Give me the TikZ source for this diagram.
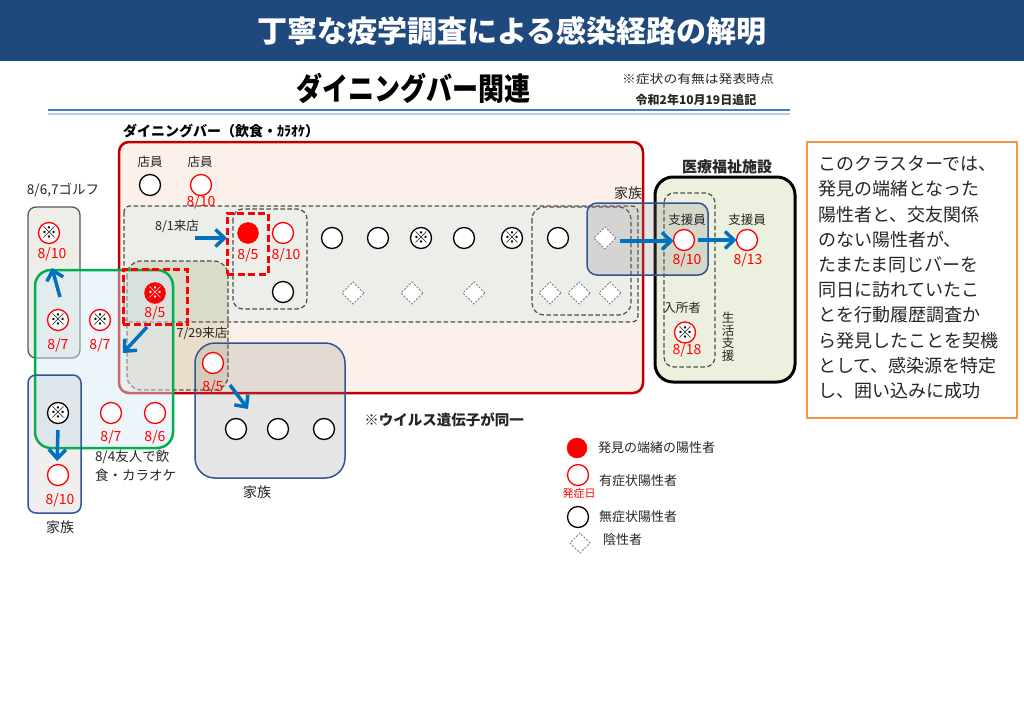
\documentclass[tikz,border=0pt]{standalone}
\usepackage{fontspec}
\usepackage{graphicx}
\setmainfont{Noto Sans CJK JP}
\usetikzlibrary{shapes.geometric,arrows.meta}
\newcommand\myfs[1]{\fontsize{#1}{#1}\selectfont}
\definecolor{titleblue}{HTML}{1F497D}
\definecolor{barred}{HTML}{C00000}
\definecolor{peach}{HTML}{FCF1EA}
\definecolor{dashfill}{HTML}{ECEEEA}
\definecolor{boxblue}{HTML}{2F5597}
\definecolor{arrowblue}{HTML}{0070C0}
\definecolor{grn}{HTML}{00B050}
\definecolor{medfill}{HTML}{EBF1DE}
\definecolor{orng}{HTML}{F79646}
\definecolor{dgray}{HTML}{4D4D4D}
\definecolor{golfgray}{HTML}{595959}
\definecolor{golffill}{HTML}{EEEDE7}
\definecolor{lineblueA}{HTML}{4A7EBB}
\definecolor{lineblueB}{HTML}{B8CCE4}
\definecolor{txtgray}{HTML}{262626}
\definecolor{greenfill}{HTML}{D5E9F5}
\begin{document}
\begin{tikzpicture}[x=1pt,y=-1pt,
  every node/.style={inner sep=0pt, outer sep=0pt},
  posc/.style={circle, draw=red, line width=1.3pt, minimum size=21pt, fill=white, font=\myfs{16}, text=black},
  asyc/.style={circle, draw=black, line width=1.3pt, minimum size=21pt, fill=white, font=\myfs{16}, text=black},
  srcc/.style={circle, draw=red, fill=red, minimum size=21pt, font=\myfs{16}, text=white},
  negd/.style={diamond, draw=gray, dash pattern=on 2pt off 1.5pt, fill=white, line width=0.9pt, minimum size=22pt},
  datel/.style={text=red, font=\myfs{14}},
  lbl/.style={text=txtgray, font=\myfs{12.5}},
  leg/.style={text=txtgray, font=\myfs{13}, anchor=west},
  arr/.style={draw=arrowblue, line width=3.5pt, -{Straight Barb[length=9pt,width=17pt]}},
  ddash/.style={draw=dgray, dash pattern=on 4.5pt off 2.5pt, line width=1.2pt},
  rdash/.style={draw=red, dash pattern=on 7pt off 3.5pt, line width=3pt},
  famblue/.style={draw=boxblue, line width=1.5pt},
]
\useasboundingbox (0,0) rectangle (1024,709);
\fill[white] (0,0) rectangle (1024,709);
% title bar
\fill[titleblue] (0,0) rectangle (1024,61);
\node[text=white, font=\myfs{30}\bfseries] (title) at (512,31) {丁寧な疫学調査による感染経路の解明};
\node[font=\myfs{26}\bfseries] (sub) at (413,88) {\scalebox{1}[1.2]{ダイニングバー関連}};
\node[text=txtgray, font=\myfs{12}] (note1) at (698,79) {\scalebox{1.15}[1]{※症状の有無は発表時点}};
\node[text=txtgray, font=\myfs{12}\bfseries] (note2) at (696,100) {令和2年10月19日追記};
\draw[line width=2.5pt, lineblueA] (48,110) -- (790,110);
\draw[line width=2pt, lineblueB] (48,114) -- (790,114);

% dining bar
\draw[draw=barred, fill=peach, line width=2.5pt, rounded corners=10pt] (119,142) rectangle (643,393);
\node[font=\myfs{14}\bfseries] (barlbl) at (221,131) {ダイニングバー（飲食・ｶﾗｵｹ）};
\draw[ddash, fill=dashfill, rounded corners=6pt] (124,206) rectangle (638,322);
\draw[ddash, rounded corners=10pt] (233,209) rectangle (307,309);
\draw[ddash, rounded corners=12pt] (532,207) rectangle (631,315);
\draw[ddash, fill=olive!60!gray, fill opacity=0.18, rounded corners=14pt] (127,261) rectangle (228,390);

% golf box
\draw[draw=golfgray, fill=golffill, line width=1.3pt, rounded corners=8pt] (28,207) rectangle (80,358);
\node[text=txtgray, font=\myfs{13.5}] (golflbl) at (63,190) {8/6,7ゴルフ};
% green box
\draw[draw=grn, line width=2.5pt, fill=greenfill, fill opacity=0.45, rounded corners=16pt] (35,270) rectangle (173,448);
% left family
\draw[famblue, fill=gray, fill opacity=0.12, rounded corners=8pt] (28,375) rectangle (81,513);
% middle family
\draw[famblue, fill=gray, fill opacity=0.2, rounded corners=20pt] (195,343) rectangle (345,478);

% medical
\draw[black, line width=3pt, fill=medfill, rounded corners=18pt] (655,177) rectangle (795,382);
\draw[ddash, rounded corners=10pt] (664,193) rectangle (715,367);
\node[text=txtgray, font=\myfs{15}\bfseries] (medlbl) at (727,167) {医療福祉施設};
% right family
\draw[famblue, fill=gray, fill opacity=0.22, rounded corners=10pt] (587,203) rectangle (708,275);
\node[text=txtgray, font=\myfs{14}] (fam3lbl) at (628,193) {家族};

% staff
\node[lbl] (st1l) at (150,162) {店員};
\node[asyc] (st1) at (150,185) {};
\node[lbl] (st2l) at (200,162) {店員};
\node[posc] (st2) at (201,185) {};
\node[datel] (st2d) at (201,202) {8/10};

% 8/1 group
\node[lbl] (v81) at (177,226) {8/1来店};
\node[srcc] (s1) at (248,233) {};
\node[datel] (s1d) at (248,255) {8/5};
\node[posc] (p1) at (283,233) {};
\node[datel] (p1d) at (286,255) {8/10};
\node[asyc] (a1) at (283,292) {};
\node[rdash, minimum width=41pt, minimum height=61pt] (sq1) at (247.5,243.5) {};

% row
\node[asyc] (r1) at (332,238) {};
\node[asyc] (r2) at (378,238) {};
\node[asyc] (r3) at (421,238) {※};
\node[asyc] (r4) at (464,238) {};
\node[asyc] (r5) at (512,238) {※};
\node[asyc] (r6) at (558,238) {};
\node[negd] (n1) at (353,293) {};
\node[negd] (n2) at (412,293) {};
\node[negd] (n3) at (474,293) {};
\node[negd] (n4) at (550,293) {};
\node[negd] (n5) at (579,293) {};
\node[negd] (n6) at (610,293) {};
\node[negd] (n7) at (605,238) {};

% 7/29 group
\node[srcc] (s2) at (155,293) {※};
\node[datel] (s2d) at (155,313) {8/5};
\node[rdash, minimum width=64pt, minimum height=55pt] (sq2) at (155,296.5) {};
\node[lbl] (v729) at (202,333) {7/29来店};

% golf
\node[posc] (g1) at (49,233) {※};
\node[datel] (g1d) at (52,254) {8/10};
\node[posc] (g2) at (58,320) {※};
\node[datel] (g2d) at (58,345) {8/7};

% green group
\node[posc] (f1) at (100,320) {※};
\node[datel] (f1d) at (100,345) {8/7};
\node[posc] (f2) at (111,413) {};
\node[datel] (f2d) at (111,437) {8/7};
\node[posc] (f3) at (155,413) {};
\node[datel] (f3d) at (155,437) {8/6};
\node[text=txtgray, anchor=north west, align=left, font=\fontsize{13.5}{19}\selectfont] (grnlbl) at (95,450) {8/4友人で飲\\食・カラオケ};

% left family
\node[asyc] (lf1) at (58,413) {※};
\node[posc] (lf2) at (58,475) {};
\node[datel] (lf2d) at (60,500) {8/10};
\node[text=txtgray, font=\myfs{14}] (fam1lbl) at (60,527) {家族};

% middle family
\node[posc] (mf0) at (213,363) {};
\node[datel] (mf0d) at (213,387) {8/5};
\node[asyc] (mf1) at (236,429) {};
\node[asyc] (mf2) at (278,429) {};
\node[asyc] (mf3) at (324,429) {};
\node[text=txtgray, font=\myfs{14}] (fam2lbl) at (257,492) {家族};
\node[text=txtgray, font=\myfs{14.5}\bfseries] (virus) at (444,420) {※ウイルス遺伝子が同一};

% medical nodes
\node[lbl] (sup1l) at (687,220) {支援員};
\node[posc] (sup1) at (684,240) {};
\node[datel] (sup1d) at (687,260) {8/10};
\node[lbl] (sup2l) at (747,220) {支援員};
\node[posc] (sup2) at (747,240) {};
\node[datel] (sup2d) at (748,260) {8/13};
\node[lbl] (resl) at (682,308) {入所者};
\node[posc] (res) at (685,332.5) {※};
\node[datel] (resd) at (687,350) {8/18};
\node[lbl, align=center, font=\fontsize{12.5}{12.5}\selectfont] (life) at (728,337) {生\\活\\支\\援};

% arrows
\coordinate (a81) at (195,238);
\draw[arr] (a81) -- (a81 -| sq1.west);
\coordinate (ga) at (60,297);
\coordinate (gb) at (52,268);
\draw[arr] (ga) -- (gb);
\coordinate (sa) at (147,327);
\coordinate (sb) at (123,353);
\draw[arr] (sa) -- (sb);
\coordinate (la) at (58,430);
\coordinate (lb) at (57,461);
\draw[arr] (la) -- (lb);
\coordinate (ma) at (230,385);
\coordinate (mb) at (248,409);
\draw[arr] (ma) -- (mb);
\coordinate (ra) at (620,241);
\draw[arr] (ra) -- (ra -| sup1.west);
\coordinate (rb) at (698,240);
\draw[arr] (rb) -- (rb -| sup2.west);

% legend
\node[srcc, minimum size=20pt] (lg1) at (577,448) {};
\node[leg] (lg1t) at (598,448) {発見の端緒の陽性者};
\node[posc] (lg2) at (578,475) {};
\node[text=red, font=\myfs{11}] (lg2d) at (579,493) {発症日};
\node[leg] (lg2t) at (599,481) {有症状陽性者};
\node[asyc] (lg3) at (578,517) {};
\node[leg] (lg3t) at (599,517) {無症状陽性者};
\node[negd, minimum size=20pt] (lg4) at (580,543) {};
\node[leg] (lg4t) at (603,540) {陰性者};

% text box
\draw[orng, line width=2pt] (807,142) rectangle (1017,418);
\node[anchor=north west, align=left, text=txtgray, font=\fontsize{18}{25.2}\selectfont] (txt) at (818,156) {このクラスターでは、\\発見の端緒となった\\陽性者と、交友関係\\のない陽性者が、\\たまたま同じバーを\\同日に訪れていたこ\\とを行動履歴調査か\\ら発見したことを契機\\として、感染源を特定\\し、囲い込みに成功};
\end{tikzpicture}
\end{document}
